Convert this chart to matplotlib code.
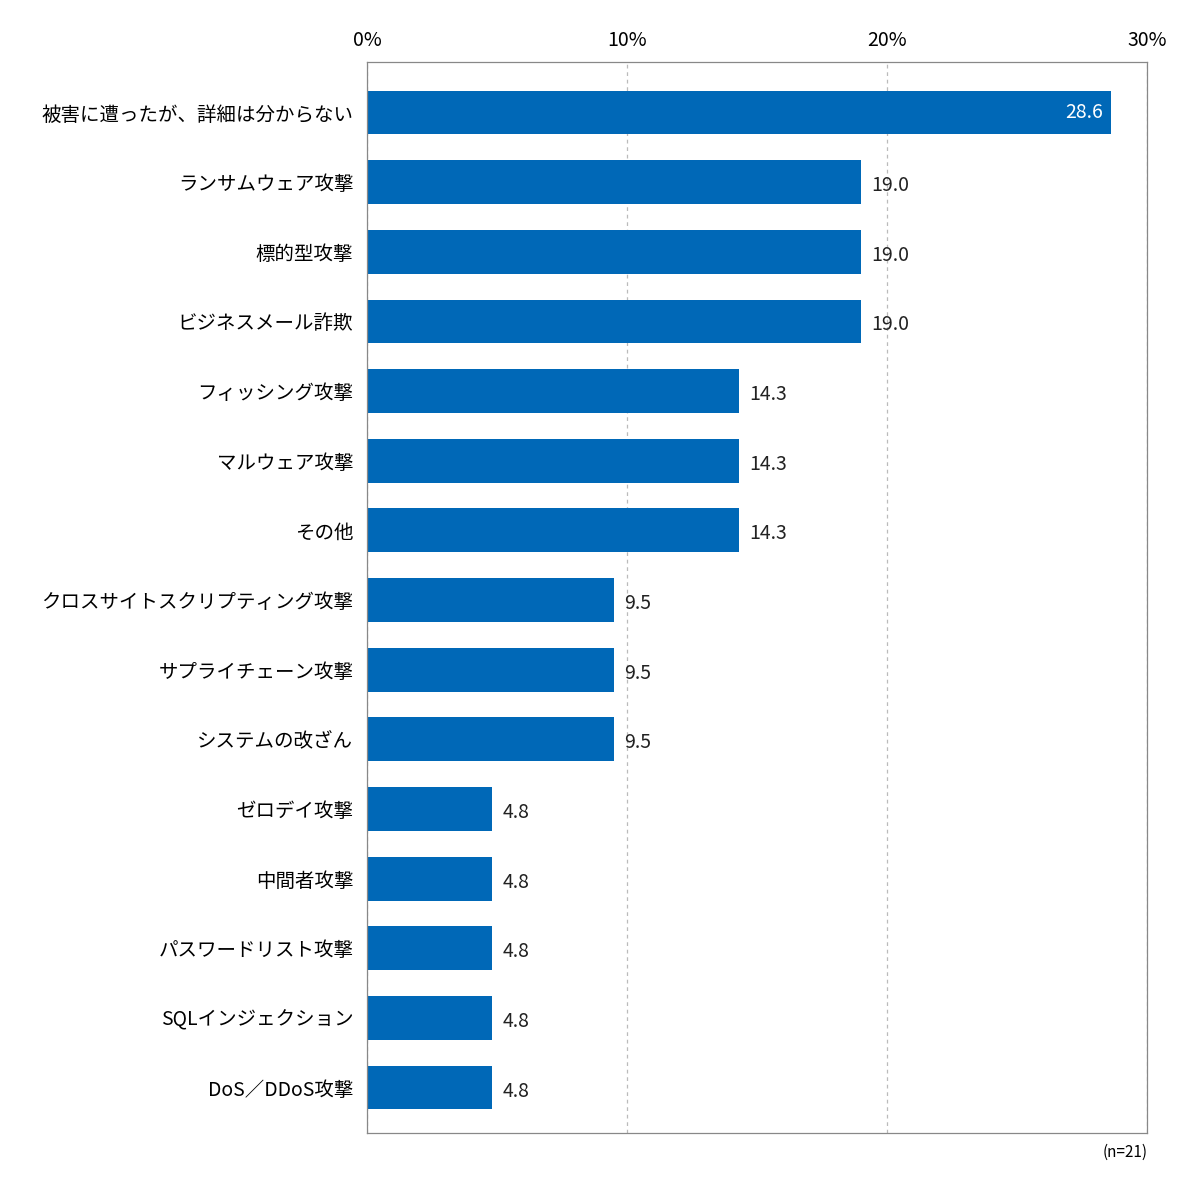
import matplotlib
matplotlib.use("Agg")
import matplotlib.pyplot as plt

plt.rcParams['font.family'] = ['Noto Sans CJK JP', 'DejaVu Sans']

categories = ['被害に遭ったが、詳細は分からない', 'ランサムウェア攻撃', '標的型攻撃', 'ビジネスメール詐欺',
              'フィッシング攻撃', 'マルウェア攻撃', 'その他', 'クロスサイトスクリプティング攻撃',
              'サプライチェーン攻撃', 'システムの改ざん', 'ゼロデイ攻撃', '中間者攻撃',
              'パスワードリスト攻撃', 'SQLインジェクション', 'DoS／DDoS攻撃']
values = [28.6, 19.0, 19.0, 19.0, 14.3, 14.3, 14.3, 9.5, 9.5, 9.5, 4.8, 4.8, 4.8, 4.8, 4.8]
ticks = [0, 10, 20, 30]

fig = plt.figure(figsize=(12, 12), dpi=100)
ax = fig.add_axes([0.306, 0.056, 0.650, 0.892])
y = range(len(values))
ax.barh(y, values, height=0.63, color='#0068b7', zorder=2)
for i, v in enumerate(values):
    if v > 25:
        ax.text(v - 0.3, i, f'{v:.1f}', color='white', ha='right', va='center', fontsize=14)
    else:
        ax.text(v + 0.4, i + 0.05, f'{v:.1f}', color='#222222', ha='left', va='center', fontsize=14)

ax.set_xlim(0, 30)
ax.set_ylim(14.65, -0.72)
ax.set_yticks(list(y))
ax.set_yticklabels(categories, fontsize=14)
ax.set_xticks(ticks)
ax.set_xticklabels([f'{t}%' for t in ticks], fontsize=14)
ax.xaxis.tick_top()
ax.tick_params(length=0, pad=8)
ax.tick_params(axis='y', pad=10)
ax.grid(axis='x', linestyle=(0, (3, 3)), color='#bbbbbb', linewidth=0.9, zorder=0)
for s in ax.spines.values():
    s.set_color('#888888')
    s.set_linewidth(0.9)
fig.text(0.956, 0.04, '(n=21)', ha='right', va='center', fontsize=11)

fig.savefig('out.png', dpi=100)
